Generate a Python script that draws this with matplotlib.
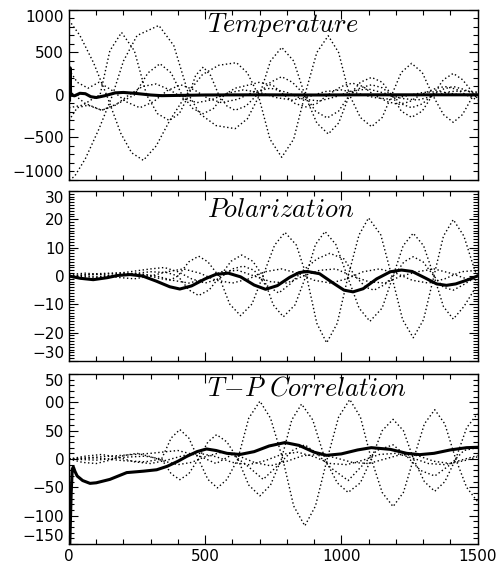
import numpy as np
import matplotlib
matplotlib.use('Agg')
import matplotlib.pyplot as plt
from matplotlib.ticker import MultipleLocator

plt.rcParams['mathtext.fontset'] = 'cm'
plt.rcParams['font.family'] = ['DejaVu Sans']

# ---------------- Temperature ----------------
temp_solid_x = [2, 4, 6, 20, 40, 60, 80, 100, 130, 170, 200, 240, 300, 340, 400, 500, 700, 900, 1100, 1300, 1500]
temp_solid_y = [-60, 320, 0, -10, 20, 15, -20, -30, -10, 25, 30, 20, 0, -8, -5, 0, 2, 0, 2, 2, 2]

temp_d1_x = [0, 20, 60, 110, 160, 200, 250, 330, 385, 440, 480, 540, 610, 655, 700, 740, 781, 825, 866, 910, 952, 990, 1030, 1070, 1111, 1150, 1185, 1220, 1258, 1297, 1335, 1375, 1411, 1445, 1480, 1500]
temp_d1_y = [-1000, -960, -750, -400, 0, 400, 700, 818, 580, 0, -220, -360, -396, -280, 0, 400, 560, 400, 0, -330, -459, -330, 0, 150, 207, 150, 0, -190, -263, -190, 0, 180, 254, 180, 40, -40]

temp_d2_x = [0, 40, 90, 138, 190, 230, 273, 320, 370, 430, 490, 550, 615, 655, 695, 738, 781, 825, 866, 910, 952, 990, 1030, 1070, 1111, 1150, 1185, 1220, 1258, 1297, 1335, 1375, 1411, 1445, 1480, 1500]
temp_d2_y = [880, 700, 380, 0, -450, -680, -769, -600, -300, 0, 240, 350, 380, 260, 0, -520, -733, -520, 0, 500, 697, 500, 0, -265, -373, -265, 0, 265, 372, 265, 0, -230, -322, -230, -30, 60]

temp_d3_x = [0, 50, 90, 114, 150, 193, 240, 285, 325, 368, 405, 440, 465, 493, 520, 550, 580, 610, 650, 690, 740, 781, 820, 866, 905, 948, 990, 1030, 1070, 1111, 1150, 1185, 1220, 1258, 1297, 1335, 1375, 1411, 1445, 1500]
temp_d3_y = [-150, -120, -40, 0, 520, 736, 520, 0, -220, -300, -220, 0, 230, 329, 230, 0, -130, -180, -130, 0, 150, 215, 150, 0, -190, -270, -190, 0, 85, 120, 85, 0, -105, -150, -105, 0, 70, 100, 70, 0]

temp_d4_x = [0, 60, 120, 180, 240, 290, 334, 375, 415, 455, 493, 530, 570, 610, 650, 700, 750, 790, 830, 870, 910, 950, 1000, 1040, 1080, 1120, 1170, 1210, 1250, 1290, 1340, 1380, 1420, 1460, 1500]
temp_d4_y = [50, -100, -180, -100, 0, 260, 368, 260, 0, -160, -220, -160, 0, 80, 110, 150, 110, 0, -100, -140, -100, 0, 100, 140, 100, 0, -80, -110, -80, 0, 70, 100, 70, 0, -60]

temp_d5_x = [0, 30, 70, 110, 160, 210, 260, 310, 360, 410, 460, 510, 560, 620, 680, 740, 800, 860, 920, 980, 1040, 1100, 1160, 1220, 1280, 1340, 1400, 1460, 1500]
temp_d5_y = [300, 150, 80, 150, 50, -80, -150, -80, 50, 120, 60, -40, -90, -50, 40, 80, 30, -50, -70, -20, 50, 70, 20, -40, -60, -10, 40, 50, 20]

temp_d6_x = [0, 30, 70, 120, 170, 220, 270, 320, 370, 420, 470, 520, 580, 640, 700, 760, 820, 880, 940, 1000, 1060, 1120, 1180, 1240, 1300, 1360, 1420, 1500]
temp_d6_y = [-300, -150, -120, -180, -120, 0, 100, 130, 60, -40, -90, -60, 20, 60, 30, -30, -60, -20, 40, 60, 20, -30, -50, -10, 30, 40, 10, -20]

# ---------------- Polarization ----------------
pol_solid_x = [0, 40, 89, 140, 180, 224, 270, 320, 370, 407, 450, 500, 540, 585, 630, 680, 722, 765, 810, 845, 875, 920, 970, 1010, 1043, 1080, 1130, 1180, 1221, 1260, 1310, 1350, 1386, 1420, 1460, 1500]
pol_solid_y = [0, -0.8, -1.3, -0.6, 0.2, 0.5, 0, -1.8, -3.8, -4.6, -3.5, -1.0, 0.6, 1.0, -0.3, -3.2, -4.7, -3.4, -0.5, 1.2, 1.6, 0.8, -2.5, -5.0, -5.6, -4.5, -1.0, 1.5, 2.1, 1.6, -0.8, -2.8, -3.3, -2.8, -1.5, 0.0]

pol_d1_x = [0, 100, 200, 280, 330, 370, 400, 440, 476, 510, 550, 590, 630, 672, 712, 755, 793, 835, 872, 910, 946, 985, 1025, 1065, 1100, 1145, 1185, 1225, 1264, 1302, 1340, 1375, 1411, 1450, 1490, 1500]
pol_d1_y = [0, 0.5, 1.0, 0.5, -0.8, -1.5, 0, 5.0, 7.0, 5.0, 0, -9.9, -14.0, -9.9, 0, 10.9, 15.4, 10.9, 0, -16.7, -23.6, -16.7, 0, 14.5, 20.5, 14.5, 0, -15.4, -21.8, -15.4, 0, 14.1, 19.9, 14.1, 2, 0]

pol_d2_x = [0, 100, 200, 300, 360, 400, 440, 476, 515, 555, 595, 634, 675, 712, 750, 787, 830, 870, 905, 940, 980, 1022, 1065, 1105, 1150, 1190, 1227, 1264, 1302, 1340, 1375, 1411, 1450, 1500]
pol_d2_y = [0, -0.3, 0.5, 1.5, 1.2, 0, -4.9, -6.9, -4.9, 0, 5.2, 7.4, 5.2, 0, -10.2, -14.4, -10.2, 0, 11.1, 15.7, 11.1, 0, -11.3, -16.0, -11.3, 0, 10.7, 15.1, 10.7, 0, -10.8, -15.2, -10.8, -3]

pol_d3_x = [0, 100, 200, 300, 350, 400, 450, 500, 550, 600, 640, 680, 720, 770, 810, 860, 910, 958, 1010, 1050, 1090, 1120, 1160, 1200, 1230, 1264, 1300, 1340, 1375, 1411, 1450, 1500]
pol_d3_y = [0, 0.8, 1.2, 2.5, 3.0, 1.5, -1, -2.5, -1, 2.5, 3.5, 2, -3, -6, -3, 2, 6, 8, 6, 0, -4, -5, -3, 1, 5, 6.8, 5, 0, -4, -5, -3, 0]

pol_d4_x = [0, 60, 120, 180, 240, 300, 360, 420, 480, 540, 600, 660, 720, 780, 840, 900, 960, 1020, 1080, 1140, 1200, 1260, 1320, 1380, 1440, 1500]
pol_d4_y = [0.5, 1.0, 0.5, -0.5, -1.0, 0, 1.5, 2.5, 1.0, -1.5, -2.5, -1, 1.5, 2.5, 1, -1.5, -2.5, -1, 1.5, 2.5, 1, -1.5, -2.5, -1, 1.5, 2]

pol_d5_x = [0, 80, 160, 240, 320, 380, 440, 500, 560, 620, 680, 740, 800, 860, 920, 980, 1040, 1100, 1160, 1220, 1280, 1340, 1400, 1460, 1500]
pol_d5_y = [-0.5, -0.8, 0.2, 1.0, 0, -1.5, -2.5, -1, 1.5, 2.0, 0, -2, -2.5, 0, 2, 2.5, 0, -2, -2.5, 0, 1.5, 2.5, 1, -1, -1.5]

# ---------------- T-P Correlation ----------------
tp_solid_x = [3, 8, 12, 16, 22, 30, 50, 77, 100, 150, 212, 273, 322, 360, 400, 432, 470, 505, 540, 580, 628, 680, 735, 793, 845, 900, 946, 1000, 1060, 1110, 1180, 1240, 1288, 1340, 1400, 1460, 1500]
tp_solid_y = [-150, -60, -18, -14, -22, -30, -38, -43, -42, -36, -24, -21.5, -19, -13, -4, 4.5, 13, 17.7, 15, 10, 8, 13, 23, 29, 24, 12, 6.5, 9, 16, 20, 17, 10, 7.7, 10, 16, 20, 20.7]

tp_d1_x = [0, 100, 200, 280, 340, 375, 407, 440, 475, 510, 545, 580, 620, 660, 701, 740, 785, 825, 866, 905, 948, 990, 1031, 1070, 1110, 1150, 1190, 1228, 1265, 1305, 1343, 1380, 1420, 1460, 1500]
tp_d1_y = [0, 2, -3, -5, 0, 37, 52, 37, 0, -36, -51, -36, 0, 72, 102, 72, 0, -83, -118, -83, 0, 74, 105, 74, 0, -59, -84, -59, 0, 62, 87, 62, 0, -50, -75]

tp_d2_x = [0, 100, 200, 280, 340, 375, 407, 440, 475, 510, 542, 580, 620, 660, 701, 740, 780, 818, 854, 895, 940, 985, 1025, 1070, 1110, 1150, 1190, 1228, 1265, 1305, 1343, 1380, 1420, 1460, 1500]
tp_d2_y = [0, -2, 3, 5, 0, -26, -36.5, -26, 0, 30, 43, 30, 0, -46, -65, -46, 0, 69, 97, 69, 0, -42, -59, -42, 0, 50, 70, 50, 0, -40, -57, -40, 0, 55, 80]

tp_d3_x = [0, 150, 300, 400, 480, 540, 600, 650, 713, 770, 820, 866, 910, 960, 1025, 1080, 1130, 1190, 1240, 1290, 1343, 1400, 1450, 1500]
tp_d3_y = [0, 5, 10, 15, 5, -8, 8, -10, -36, -10, 15, 25, 10, -15, -38, -10, 15, 25, 5, -20, -30, -10, 15, 20]

tp_d4_x = [0, 60, 120, 180, 240, 300, 360, 420, 480, 540, 600, 660, 720, 780, 840, 900, 960, 1020, 1080, 1140, 1200, 1260, 1320, 1380, 1440, 1500]
tp_d4_y = [0, 5, 8, 3, -5, -8, -2, 6, 10, 4, -6, -10, -3, 8, 12, 4, -8, -10, -2, 8, 10, 2, -8, -10, -2, 6]

tp_d5_x = [0, 50, 100, 150, 200, 250, 300, 350, 400, 450, 500, 560, 620, 680, 740, 800, 860, 920, 980, 1040, 1100, 1160, 1220, 1280, 1340, 1400, 1460, 1500]
tp_d5_y = [0, -6, -8, -2, 6, 10, 4, -4, -10, -6, 4, 12, 6, -6, -12, -4, 6, 8, 2, -6, -8, 0, 8, 6, -4, -8, -2, 4]

panels = [
    dict(title=r'$Temperature$', ylim=1000, minor=100,
         ticks=[-1000, -500, 0, 500, 1000],
         labels=['\u22121000', '\u2212500', '0', '500', '1000'],
         solid=(temp_solid_x, temp_solid_y),
         dotted=[(temp_d1_x, temp_d1_y), (temp_d2_x, temp_d2_y), (temp_d3_x, temp_d3_y),
                 (temp_d4_x, temp_d4_y), (temp_d5_x, temp_d5_y), (temp_d6_x, temp_d6_y)],
         ty=0.872),
    dict(title=r'$Polarization$', ylim=30, minor=1,
         ticks=[-30, -20, -10, 0, 10, 20, 30],
         labels=['\u221230', '\u221220', '\u221210', '0', '10', '20', '30'],
         solid=(pol_solid_x, pol_solid_y),
         dotted=[(pol_d1_x, pol_d1_y), (pol_d2_x, pol_d2_y), (pol_d3_x, pol_d3_y),
                 (pol_d4_x, pol_d4_y), (pol_d5_x, pol_d5_y)],
         ty=0.845),
    dict(title=r'$T\!-\!P\ Correlation$', ylim=150, minor=10,
         ticks=[-150, -100, -50, 0, 50, 100, 150],
         labels=['\u2212150', '\u2212100', '\u221250', '0', '50', '00', '50'],
         solid=(tp_solid_x, tp_solid_y),
         dotted=[(tp_d1_x, tp_d1_y), (tp_d2_x, tp_d2_y), (tp_d3_x, tp_d3_y),
                 (tp_d4_x, tp_d4_y), (tp_d5_x, tp_d5_y)],
         ty=0.872),
]

fig = plt.figure(figsize=(5.0, 5.71), dpi=100)
bottoms = [0.6848, 0.3678, 0.0473]
left, width, height = 0.138, 0.817, 0.2977

for p, b in zip(panels, bottoms):
    ax = fig.add_axes([left, b, width, height])
    for dx, dy in p['dotted']:
        ax.plot(dx, dy, color='black', lw=1.0, linestyle=(0, (1, 1.8)))
    ax.plot(p['solid'][0], p['solid'][1], color='black', lw=2.2)

    ax.set_xlim(0, 1500)
    ax.set_ylim(-p['ylim'], p['ylim'])
    ax.set_xticks([0, 500, 1000, 1500])
    ax.xaxis.set_minor_locator(MultipleLocator(100))
    ax.set_yticks(p['ticks'])
    ylabs = ax.set_yticklabels(p['labels'])
    # keep end labels inside the panel, like the original
    ylabs[0].set_verticalalignment('bottom')
    ylabs[-1].set_verticalalignment('top')
    ax.yaxis.set_minor_locator(MultipleLocator(p['minor']))
    ax.tick_params(which='both', direction='in', top=True, right=True, labelsize=11, width=0.8)
    ax.tick_params(which='major', length=6.5)
    ax.tick_params(which='minor', length=3.5)
    for s in ax.spines.values():
        s.set_linewidth(1.0)
    if b != bottoms[-1]:
        ax.set_xticklabels([])
    ax.text(0.338, p['ty'], p['title'], transform=ax.transAxes, fontsize=19,
            ha='left', va='baseline')

fig.savefig('out.png', dpi=100)
